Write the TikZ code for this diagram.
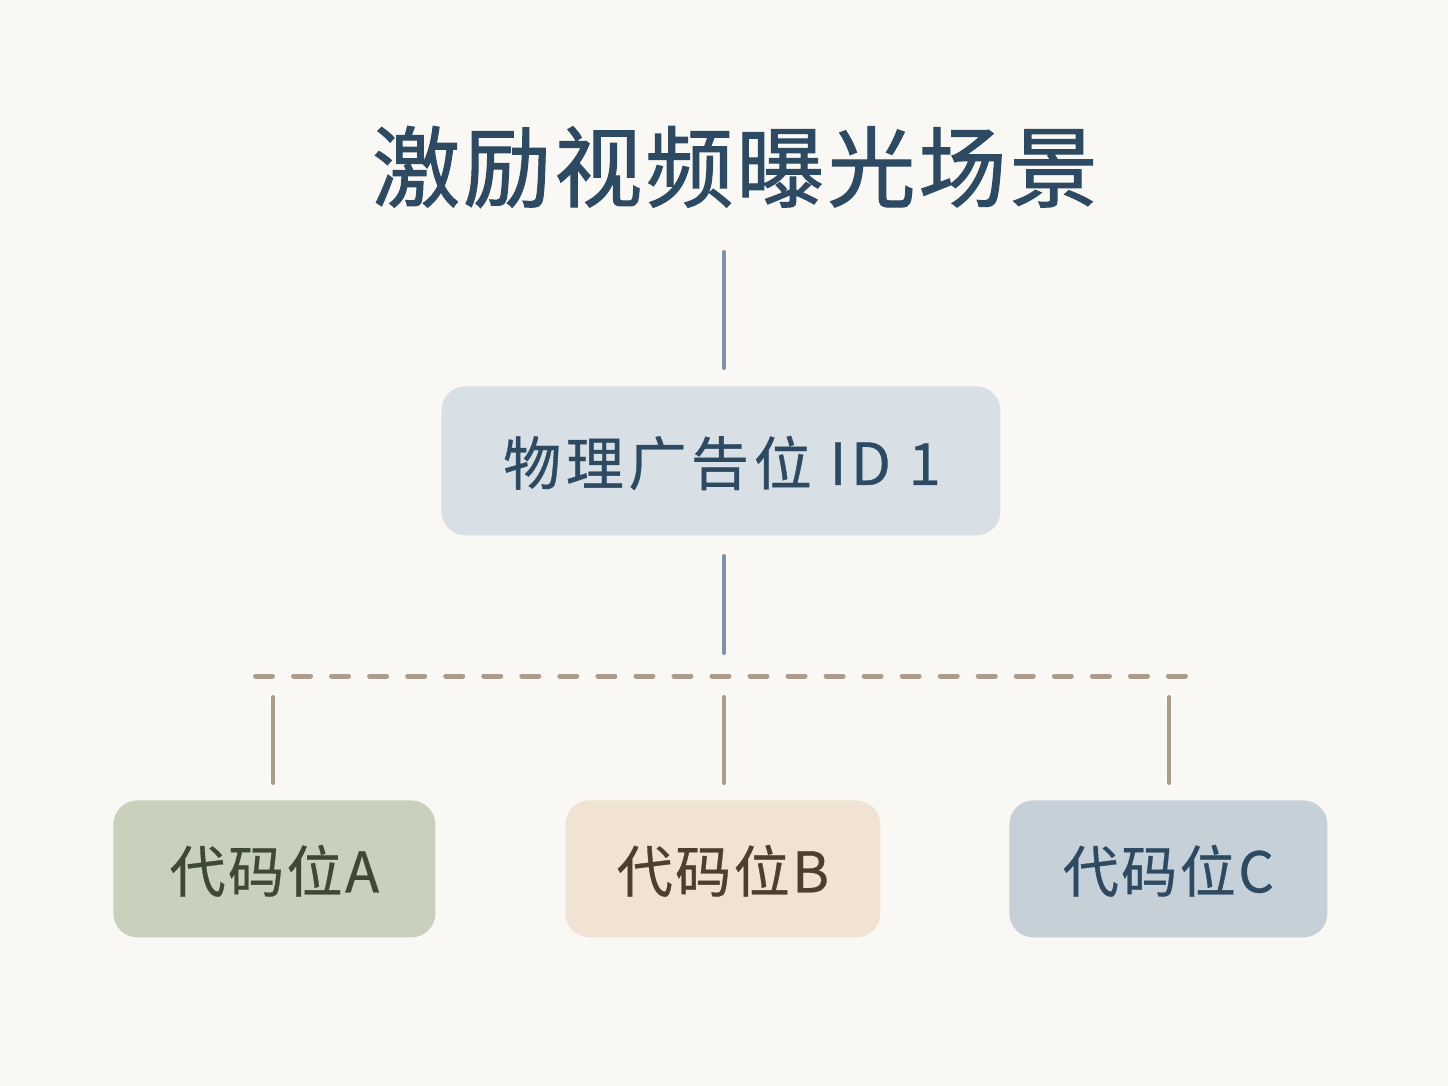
\documentclass[tikz,border=0pt]{standalone}
\usepackage{fontspec}
\newfontfamily\titlefont[LetterSpace=3.5,FakeBold=1.2]{Noto Sans CJK SC}
\newfontfamily\idfont[LetterSpace=8,FakeBold=0.6]{Noto Sans CJK SC}
\newfontfamily\codefont[LetterSpace=4.5,FakeBold=0.6]{Noto Sans CJK SC}
\definecolor{bg}{HTML}{F9F8F4}
\definecolor{navy}{HTML}{2E4A62}
\definecolor{blueline}{HTML}{7D93A6}
\definecolor{tanline}{HTML}{AC9C8C}
\definecolor{idfill}{HTML}{D8E0E5}
\definecolor{afill}{HTML}{C9D1BC}
\definecolor{atext}{HTML}{3D4936}
\definecolor{bfill}{HTML}{F1E3D3}
\definecolor{btext}{HTML}{4A3F30}
\definecolor{cfill}{HTML}{C5D0D9}
\begin{document}
\begin{tikzpicture}[x=0.5pt,y=-0.5pt,
  box/.style={rounded corners=12pt, inner sep=0pt, anchor=north west},
  trunk/.style={draw=blueline, line width=2pt, line cap=round},
  branch/.style={draw=tanline, line width=2pt, line cap=round},
  bus/.style={draw=tanline, line width=2.5pt, line cap=round, dash pattern=on 8.5pt off 10.52pt}]
\fill[bg] (0,0) rectangle (1448,1086);
\useasboundingbox (0,0) rectangle (1448,1086);
% title
\node[text=navy, font=\titlefont\fontsize{44}{50}\selectfont] (title) at (735,167) {激励视频曝光场景};
% main box
\node[box, fill=idfill, minimum width=279.5pt, minimum height=74.5pt] (id1) at (441,386) {};
\node[text=navy, font=\idfont\fontsize{29}{34}\selectfont] (id1t) at (722,463) {物理广告位 ID 1};
% code boxes
\node[box, fill=afill, minimum width=161pt, minimum height=68.5pt] (a) at (113,800) {};
\node[box, fill=bfill, minimum width=157.5pt, minimum height=68.5pt] (b) at (565,800) {};
\node[box, fill=cfill, minimum width=159pt, minimum height=68.5pt] (c) at (1009,800) {};
\node[text=atext, font=\codefont\fontsize{28}{32}\selectfont] (at) at ([yshift=-1pt]a.center) {代码位A};
\node[text=btext, font=\codefont\fontsize{28}{32}\selectfont] (bt) at ([yshift=-1pt]b.center) {代码位B};
\node[text=navy, font=\codefont\fontsize{28}{32}\selectfont] (ct) at ([yshift=-1pt]c.center) {代码位C};
% connectors
\coordinate (t1) at (724,252);
\coordinate (t2) at (724,368);
\coordinate (t3) at (724,556);
\coordinate (t4) at (724,653);
\draw[trunk] (t1) -- (t2);
\draw[trunk] (t3) -- (t4);
\coordinate (busL) at (255.5,676);
\coordinate (busR) at (1185.5,676);
\draw[bus] (busL) -- (busR);
\draw[branch] (273,697) -- (273,783);
\draw[branch] (724,697) -- (724,783);
\draw[branch] (1169,697) -- (1169,783);
\end{tikzpicture}
\end{document}
